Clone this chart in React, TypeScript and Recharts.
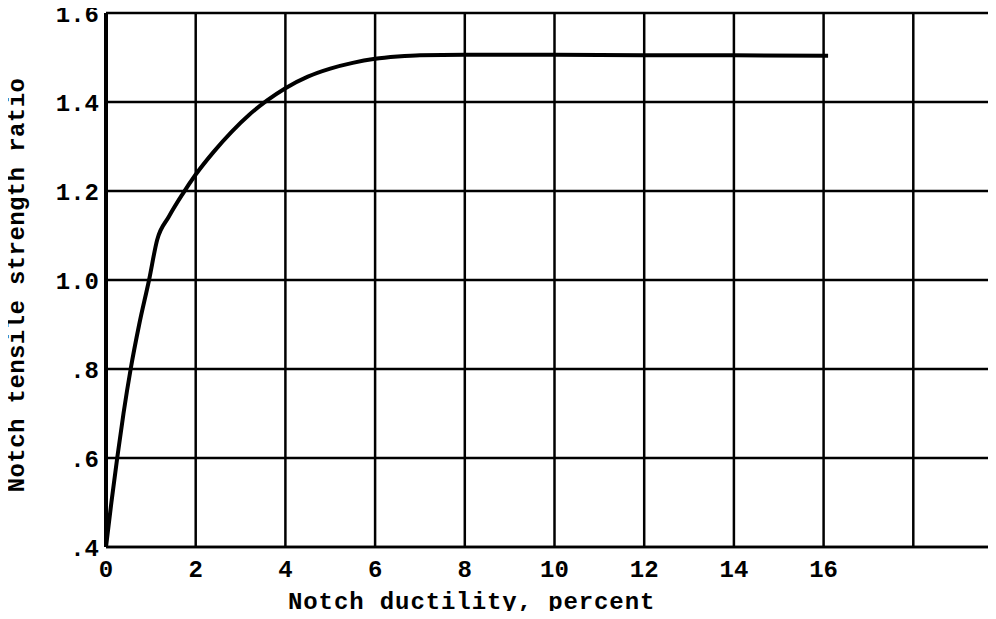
import React from 'react';
import { LineChart, Line, XAxis, YAxis, CartesianGrid } from 'recharts';

// Notch ductility (percent) vs notch tensile strength ratio
const ductility = [0, 0.12, 0.25, 0.39, 0.55, 0.74, 0.96, 1.14, 1.4, 1.7, 2.0, 2.4, 2.8, 3.2, 3.6, 4.0, 4.5, 5.0, 5.5, 6.0, 6.5, 7.0, 8.0, 10, 12, 14, 16.1];
const ratio = [0.4, 0.5, 0.6, 0.7, 0.8, 0.9, 1.0, 1.09, 1.142, 1.192, 1.237, 1.288, 1.333, 1.372, 1.404, 1.431, 1.457, 1.475, 1.488, 1.497, 1.502, 1.505, 1.506, 1.506, 1.505, 1.505, 1.504];

const xTicks = [0, 2, 4, 6, 8, 10, 12, 14, 16, 18, 20];
const yTicks = [0.4, 0.6, 0.8, 1.0, 1.2, 1.4, 1.6];
const lastLabelledX = 16;

const xTitle = 'Notch ductility, percent';
const yTitle = 'Notch tensile strength ratio';

const data = ductility.map((d, i) => ({ d, r: ratio[i] }));

const FONT = '"Liberation Mono", "DejaVu Sans Mono", monospace';
const INK = '#000';

const tickStyle = { fontFamily: FONT, fontSize: 24, fontWeight: 700, fill: INK };

function formatY(v: number) {
    const s = v.toFixed(1);
    return v < 1 ? s.slice(1) : s;
}

export default function App() {
    return (
        <div style={{ margin: -8, width: 996, height: 619, overflow: 'hidden', background: '#fff' }}>
            <LineChart
                width={1010}
                height={619}
                data={data}
                margin={{ top: 13, right: 7, bottom: 0, left: 0 }}
            >
                <CartesianGrid stroke={INK} strokeWidth={2.5} strokeOpacity={1} />
                <XAxis
                    dataKey="d"
                    type="number"
                    domain={[0, 20]}
                    ticks={xTicks}
                    allowDataOverflow
                    height={72}
                    tickLine={false}
                    tickSize={0}
                    tickMargin={13}
                    axisLine={{ stroke: INK, strokeWidth: 2.5 }}
                    tick={tickStyle}
                    tickFormatter={(v: number) => (v <= lastLabelledX ? String(v) : '')}
                    label={(props: any) => {
                        const vb = props.viewBox || {};
                        return (
                            <text
                                x={(vb.x || 0) + 182}
                                y={(vb.y || 0) + 62}
                                fontFamily={FONT}
                                fontSize={24}
                                fontWeight={700}
                                letterSpacing={0.9}
                                fill={INK}
                            >
                                {xTitle}
                            </text>
                        );
                    }}
                />
                <YAxis
                    type="number"
                    domain={[0.4, 1.6]}
                    ticks={yTicks}
                    allowDataOverflow
                    width={106}
                    tickLine={false}
                    tickSize={0}
                    tickMargin={7}
                    axisLine={{ stroke: INK, strokeWidth: 4 }}
                    tick={tickStyle}
                    tickFormatter={formatY}
                    label={(props: any) => {
                        const vb = props.viewBox || {};
                        const cy = (vb.y || 0) + (vb.height || 0) / 2 + 5;
                        return (
                            <text
                                x={17}
                                y={cy}
                                transform={`rotate(-90, 17, ${cy})`}
                                textAnchor="middle"
                                dominantBaseline="central"
                                fontFamily={FONT}
                                fontSize={24}
                                fontWeight={700}
                                letterSpacing={0.4}
                                fill={INK}
                            >
                                {yTitle}
                            </text>
                        );
                    }}
                />
                <Line
                    dataKey="r"
                    type="monotone"
                    stroke={INK}
                    strokeWidth={4}
                    dot={false}
                    isAnimationActive={false}
                />
            </LineChart>
        </div>
    );
}
